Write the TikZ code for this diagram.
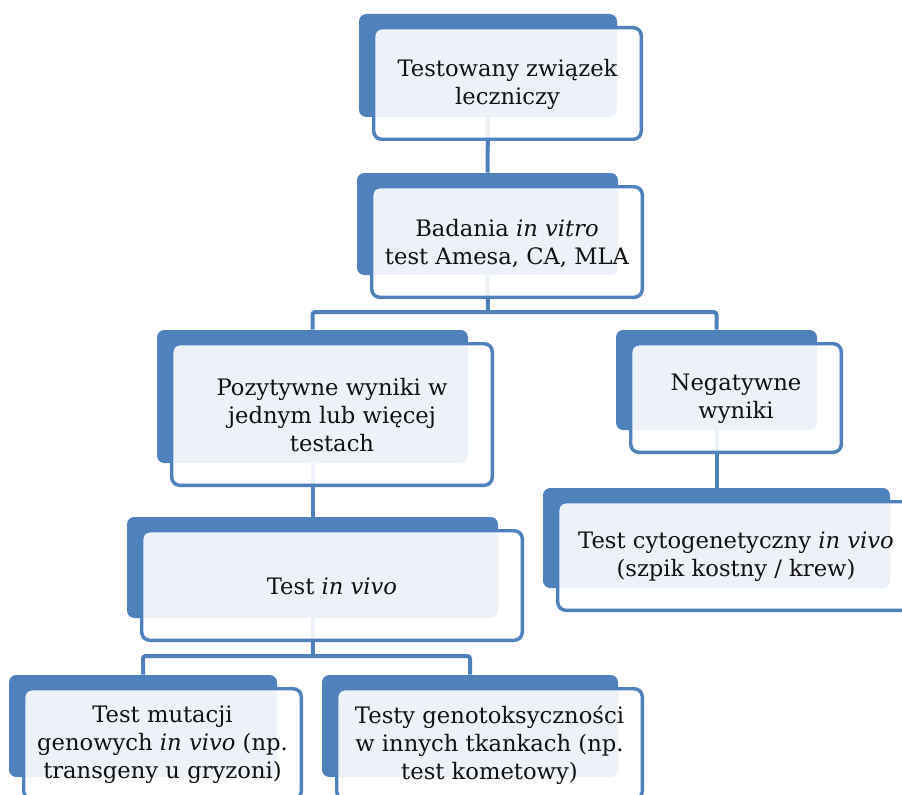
\documentclass[tikz,border=0pt]{standalone}
\usepackage{fontspec}
\setmainfont{DejaVu Serif}
\usetikzlibrary{calc}
\definecolor{sablue}{HTML}{4F81BD}
\definecolor{txt}{HTML}{111111}
\tikzset{
  backbox/.style={draw=none, fill=sablue, rounded corners=5.5pt, inner sep=0pt},
  frontbox/.style={draw=sablue, line width=2.6pt, fill=white, fill opacity=0.9, rounded corners=6pt},
  label/.style={align=center, text=txt, font=\fontsize{17}{21}\selectfont, inner sep=0pt},
  conn/.style={draw=sablue, line width=3pt, rounded corners=2pt}
}
\newcommand\backat[5]{%
  \node[backbox, minimum width={(#4-#2)*0.75pt}, minimum height={(#5-#3)*0.75pt}] (#1) at ({(#2+#4)/2},{(#3+#5)/2}) {};}
\newcommand\frontat[2]{%
  \path[frontbox] ($(#1.north west)+(15,14)$) rectangle ($(#1.south east)+(24,22)$);
  \node[label] (#1t) at ($($(#1.north west)+(15,14)$)!0.5!($(#1.south east)+(24,22)$)+(0,1)$) {#2};}
\begin{document}
\begin{tikzpicture}[x=0.75pt,y=-0.75pt]
\useasboundingbox (0,0) rectangle (902,795);
\clip (0,0) rectangle (902,795);
% back boxes
\backat{b1}{359}{14}{617}{117}
\backat{b2}{357}{173}{618}{275}
\backat{b3}{157}{330}{468}{463}
\backat{b5}{616}{330}{817}{430}
\backat{b4}{127}{517}{498}{618}
\backat{b6}{543}{488}{890}{588}
\backat{b7}{9}{675}{277}{777}
\backat{b8}{322}{675}{618}{777}
% connectors
\coordinate (j1) at (488,312);
\coordinate (j2) at (313,656);
\draw[conn] (b1.south) -- (b2.north);
\draw[conn] (b2.south) -- (j1);
\draw[conn] (b3.north) |- (j1) -| (b5.north);
\draw[conn] (b3.south) -- (b4.north);
\draw[conn] (b5.south) -- (b6.north);
\draw[conn] (b4.south) -- (j2);
\draw[conn] (b7.north) |- (j2) -| (b8.north);
% front boxes and texts
\frontat{b1}{Testowany związek\\leczniczy}
\frontat{b2}{Badania \textit{in vitro}\\test Amesa, CA, MLA}
\frontat{b3}{Pozytywne wyniki w\\jednym lub więcej\\testach}
\frontat{b5}{Negatywne\\wyniki}
\frontat{b4}{Test \textit{in vivo}}
\frontat{b6}{Test cytogenetyczny \textit{in vivo}\\(szpik kostny / krew)}
\frontat{b7}{Test mutacji\\genowych \textit{in vivo} (np.\\transgeny u gryzoni)}
\frontat{b8}{Testy genotoksyczności\\w innych tkankach (np.\\test kometowy)}
\end{tikzpicture}
\end{document}
